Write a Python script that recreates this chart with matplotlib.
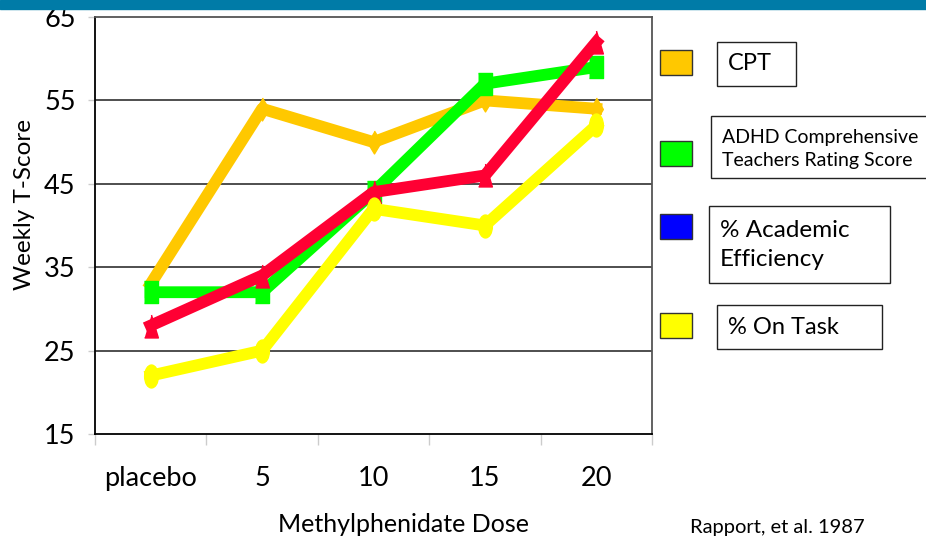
import numpy as np
import matplotlib.pyplot as plt
from matplotlib.path import Path
from matplotlib.patches import Rectangle

# ---- data ----
doses = ["placebo", "5", "10", "15", "20"]
cpt = [33, 54, 50, 55, 54]
teacher_rating = [32, 32, 44, 57, 59]
academic_eff = [28, 34, 44, 46, 62]
on_task = [22, 25, 42, 40, 52]
yticks = [15, 25, 35, 45, 55, 65]

legend_labels = ["CPT", "ADHD Comprehensive\nTeachers Rating Score",
                 "% Academic\nEfficiency", "% On Task"]
legend_colors = ["#FFC800", "#00FF00", "#0000FF", "#FFFF00"]

W, H = 926, 537
plt.rcParams['font.family'] = ['Lato', 'DejaVu Sans']

def fx(px):
    return px / W

def fy(py):
    return 1 - py / H

# tall, narrow marker shapes (the original is stretched vertically)
sq = [(-0.3, -0.5), (0.3, -0.5), (0.3, 0.5), (-0.3, 0.5)]
tri = [(-0.3, -0.5), (0.3, -0.5), (0, 0.5)]
dia = [(0, 0.5), (0.3, 0), (0, -0.5), (-0.3, 0)]
circ = Path.unit_circle()
ell = Path(circ.vertices * np.array([0.6, 1.0]), circ.codes)

fig = plt.figure(figsize=(W / 100, H / 100), dpi=100)
ax = fig.add_axes([fx(95), fy(434), fx(652) - fx(95), fy(17) - fy(434)])

x = np.arange(len(doses))
lw = 8.5
ms = 16.5
ax.plot(x, cpt, color="#FFC800", lw=lw, marker=dia, ms=ms, zorder=3)
ax.plot(x, teacher_rating, color="#00FF00", lw=lw, marker=sq, ms=ms, zorder=4)
ax.plot(x, academic_eff, color="#FF0033", lw=lw, marker=tri, ms=ms, zorder=5)
ax.plot(x, on_task, color="#FFFF00", lw=lw, marker=ell, ms=ms, zorder=6)

ax.set_xlim(-0.5, len(doses) - 0.5)
ax.set_ylim(15, 65)
ax.set_yticks(yticks)
ax.set_yticklabels([str(v) for v in yticks], fontsize=19.5)
ax.set_xticks(x)
ax.set_xticklabels(doses, fontsize=19.5)
ax.set_xticks(np.arange(-0.5, len(doses)), minor=True)
ax.tick_params(axis='x', which='major', length=0, pad=23)
ax.tick_params(axis='x', which='minor', length=8, color='#cccccc', width=1)
ax.tick_params(axis='y', which='major', length=5, color='#cccccc', width=1, pad=9)

for g in yticks[1:-1]:
    ax.axhline(g, color='#404040', lw=1.3, zorder=1)

ax.spines['left'].set_color('black')
ax.spines['bottom'].set_color('black')
ax.spines['top'].set_color('#555555')
ax.spines['right'].set_color('#555555')
for s in ax.spines.values():
    s.set_linewidth(1.3)

# labels
fig.text(fx(25), fy(205), "Weekly T-Score", rotation=90, ha='center', va='center', fontsize=17.5)
fig.text(fx(403), fy(524), "Methylphenidate Dose", ha='center', va='center', fontsize=18)
fig.text(fx(777), fy(527), "Rapport, et al. 1987", ha='center', va='center', fontsize=14.5)

# top banner
fig.patches.append(Rectangle((0, fy(9)), 1, 1 - fy(9), transform=fig.transFigure,
                             color='#007BA7', zorder=0))

# legend: colour squares + boxed labels
sw_y = [50, 141, 214, 313]
box = [(717, 42, 796, 86), (711, 116, 935, 178), (709, 206, 890, 283), (717, 305, 882, 349)]
txt = [(728, 64, 17), (722, 149, 14), (720, 245, 17.5), (728, 327, 17)]
for i, (lab, col) in enumerate(zip(legend_labels, legend_colors)):
    fig.patches.append(Rectangle((fx(660), fy(sw_y[i] + 25)), fx(32), fy(sw_y[i]) - fy(sw_y[i] + 25),
                                 transform=fig.transFigure, facecolor=col,
                                 edgecolor='#333333', lw=1))
    x0, y0, x1, y1 = box[i]
    fig.patches.append(Rectangle((fx(x0), fy(y1)), fx(x1 - x0), fy(y0) - fy(y1),
                                 transform=fig.transFigure, facecolor='white',
                                 edgecolor='#222222', lw=1))
    tx, ty, fs = txt[i]
    fig.text(fx(tx), fy(ty), lab, ha='left', va='center', fontsize=fs, linespacing=1.45)

fig.savefig("out.png", dpi=100)
